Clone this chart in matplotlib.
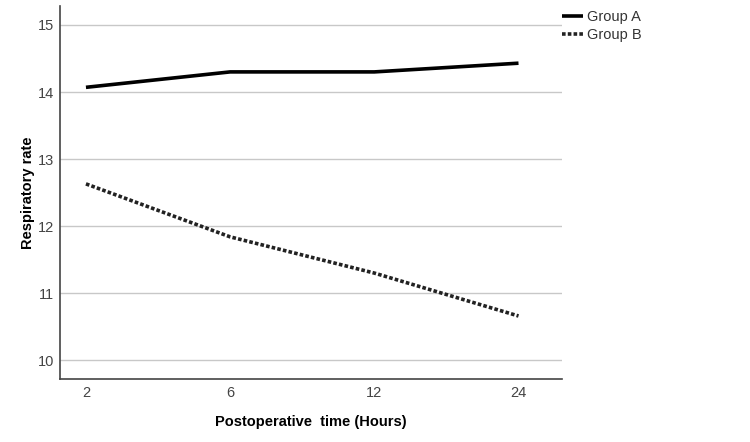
import matplotlib
matplotlib.use("Agg")
import matplotlib.pyplot as plt

plt.rcParams['font.family'] = ['Liberation Sans', 'DejaVu Sans']

hours = ['2', '6', '12', '24']
group_a = [14.07, 14.30, 14.30, 14.43]
group_b = [12.63, 11.84, 11.30, 10.66]
y_ticks = [10, 11, 12, 13, 14, 15]

fig = plt.figure(figsize=(7.5, 4.42), dpi=100)
ax = fig.add_axes([0.08, 0.1425, 0.669, 0.8435])

x = range(len(hours))
ax.plot(x, group_a, color='black', lw=2.6, label='Group A', solid_capstyle='butt')
ax.plot(x, group_b, color='#222222', lw=2.6, ls=(0, (1, 0.6)), label='Group B')

ax.set_xlim(-0.18, 3.3)
ax.set_ylim(9.72, 15.28)
ax.set_xticks(list(x))
ax.set_xticklabels(hours)
ax.set_yticks(y_ticks)
ax.tick_params(length=0, labelsize=10.5, colors='#444444')
ax.tick_params(axis='y', pad=4)
ax.tick_params(axis='x', pad=5)
ax.yaxis.grid(True, color='#c8c8c8', lw=1)
ax.set_axisbelow(True)
for s in ['top', 'right']:
    ax.spines[s].set_visible(False)
for s in ['left', 'bottom']:
    ax.spines[s].set_color('#444444')
    ax.spines[s].set_linewidth(1.2)

ax.set_xlabel('Postoperative  time (Hours)', fontsize=10.5, fontweight='bold', labelpad=11)
ax.set_ylabel('Respiratory rate', fontsize=10.5, fontweight='bold', labelpad=2)

leg = ax.legend(loc='upper left', bbox_to_anchor=(0.995, 0.998), frameon=False,
                fontsize=10.5, handlelength=1.45, handletextpad=0.25,
                labelspacing=0.3, borderaxespad=0.0, borderpad=0.2)
for t in leg.get_texts():
    t.set_color('#333333')

fig.savefig('out.png', dpi=100)
